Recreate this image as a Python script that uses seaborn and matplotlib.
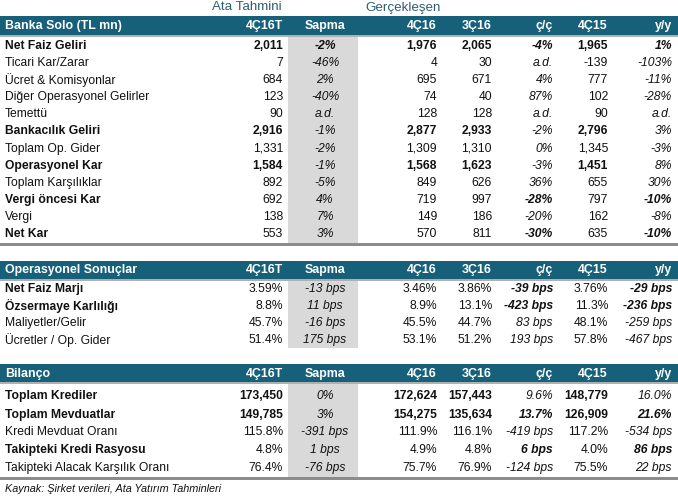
import matplotlib
matplotlib.use("Agg")
import matplotlib.pyplot as plt
from matplotlib.patches import Rectangle
import seaborn as sns

sns.set_theme(style="white")
plt.rcParams['font.family'] = ['Liberation Sans', 'DejaVu Sans']

# ---------------- data ----------------
col_headers = ["4Ç16T", "Sapma", "4Ç16", "3Ç16", "ç/ç", "4Ç15", "y/y"]

s1_title = "Banka Solo (TL mn)"
s1_labels = ["Net Faiz Geliri", "Ticari Kar/Zarar", "Ücret & Komisyonlar",
             "Diğer Operasyonel Gelirler", "Temettü", "Bankacılık Geliri",
             "Toplam Op. Gider", "Operasyonel Kar", "Toplam Karşılıklar",
             "Vergi öncesi Kar", "Vergi", "Net Kar"]
s1_est = ["2,011", "7", "684", "123", "90", "2,916", "1,331", "1,584", "892", "692", "138", "553"]
s1_sapma = ["-2%", "-46%", "2%", "-40%", "a.d.", "-1%", "-2%", "-1%", "-5%", "4%", "7%", "3%"]
s1_q416 = ["1,976", "4", "695", "74", "128", "2,877", "1,309", "1,568", "849", "719", "149", "570"]
s1_q316 = ["2,065", "30", "671", "40", "128", "2,933", "1,310", "1,623", "626", "997", "186", "811"]
s1_qoq = ["-4%", "a.d.", "4%", "87%", "a.d.", "-2%", "0%", "-3%", "36%", "-28%", "-20%", "-30%"]
s1_q415 = ["1,965", "-139", "777", "102", "90", "2,796", "1,345", "1,451", "655", "797", "162", "635"]
s1_yoy = ["1%", "-103%", "-11%", "-28%", "a.d.", "3%", "-3%", "8%", "30%", "-10%", "-8%", "-10%"]
s1_bold_label = [1, 0, 0, 0, 0, 1, 0, 1, 0, 1, 0, 1]
s1_bold_num = [1, 0, 0, 0, 0, 1, 0, 1, 0, 0, 0, 0]
s1_bold_pct = [1, 0, 0, 0, 0, 0, 0, 0, 0, 1, 0, 1]

s2_title = "Operasyonel Sonuçlar"
s2_labels = ["Net Faiz Marjı", "Özsermaye Karlılığı", "Maliyetler/Gelir", "Ücretler / Op. Gider"]
s2_est = ["3.59%", "8.8%", "45.7%", "51.4%"]
s2_sapma = ["-13 bps", "11 bps", "-16 bps", "175 bps"]
s2_q416 = ["3.46%", "8.9%", "45.5%", "53.1%"]
s2_q316 = ["3.86%", "13.1%", "44.7%", "51.2%"]
s2_qoq = ["-39 bps", "-423 bps", "83 bps", "193 bps"]
s2_q415 = ["3.76%", "11.3%", "48.1%", "57.8%"]
s2_yoy = ["-29 bps", "-236 bps", "-259 bps", "-467 bps"]
s2_bold_label = [1, 1, 0, 0]
s2_bold_num = [0, 0, 0, 0]
s2_bold_pct = [1, 1, 0, 0]

s3_title = "Bilanço"
s3_labels = ["Toplam Krediler", "Toplam Mevduatlar", "Kredi Mevduat Oranı",
             "Takipteki Kredi Rasyosu", "Takipteki Alacak Karşılık Oranı"]
s3_est = ["173,450", "149,785", "115.8%", "4.8%", "76.4%"]
s3_sapma = ["0%", "3%", "-391 bps", "1 bps", "-76 bps"]
s3_q416 = ["172,624", "154,275", "111.9%", "4.9%", "75.7%"]
s3_q316 = ["157,443", "135,634", "116.1%", "4.8%", "76.9%"]
s3_qoq = ["9.6%", "13.7%", "-419 bps", "6 bps", "-124 bps"]
s3_q415 = ["148,779", "126,909", "117.2%", "4.0%", "75.5%"]
s3_yoy = ["16.0%", "21.6%", "-534 bps", "86 bps", "22 bps"]
s3_bold_label = [1, 1, 0, 1, 0]
s3_bold_num = [1, 1, 0, 0, 0]
s3_bold_pct = [0, 1, 0, 1, 0]

group_titles = ["Ata Tahmini", "Gerçekleşen"]
source_text = "Kaynak: Şirket verileri, Ata Yatırım Tahminleri"

# ---------------- layout ----------------
W, H = 678, 500
HEADER_C = "#17607a"
GREY_COL = "#d9d9d9"
LINE_C = "#8c8c8c"
TITLE_C = "#2e5f6f"
TXT_C = "#111111"
FS = 8.7
HFS = 8.9
TFS = 9.6

fig = plt.figure(figsize=(W / 100, H / 100), dpi=100)
ax = fig.add_axes([0, 0, 1, 1])
ax.set_xlim(0, W)
ax.set_ylim(H, 0)
ax.axis("off")

# column x anchors: (x, ha)
cols = [(283, "right"), (325, "center"), (437, "right"), (492, "right"),
        (553, "right"), (608, "right"), (672, "right")]
SAP_X0, SAP_X1 = 288, 358

ax.text(247, 7.5, group_titles[0], ha="center", va="center", fontsize=TFS, color=TITLE_C)
ax.text(365, 7.5, group_titles[1], ha="left", va="center", fontsize=TFS, color=TITLE_C)


def section(title, hdr_top, hdr_bot, rows_y, grey_bot, bottom_line, labels, est, sap,
            q416, q316, qoq, q415, yoy, bl, bn, bp):
    ax.add_patch(Rectangle((0, hdr_top), W, hdr_bot - hdr_top, color=HEADER_C, lw=0))
    ax.add_patch(Rectangle((0, hdr_bot), W, 2, color="#b0b0b0", lw=0))
    hy = (hdr_top + hdr_bot) / 2 + 0.5
    ax.text(5, hy, title, ha="left", va="center", fontsize=HFS, color="white", fontweight="bold")
    for (x, ha), h in zip(cols, col_headers):
        ax.text(x, hy, h, ha=ha, va="center", fontsize=HFS, color="white", fontweight="bold")
    ax.add_patch(Rectangle((SAP_X0, hdr_bot + 2), SAP_X1 - SAP_X0, grey_bot - hdr_bot - 2,
                           color=GREY_COL, lw=0))
    if bottom_line:
        ax.add_patch(Rectangle((0, grey_bot), W, 3, color=LINE_C, lw=0))
    for i, y in enumerate(rows_y):
        ax.text(5, y, labels[i], ha="left", va="center", fontsize=FS, color=TXT_C,
                fontweight="bold" if bl[i] else "normal")
        vals = [est[i], sap[i], q416[i], q316[i], qoq[i], q415[i], yoy[i]]
        for j, ((x, ha), v) in enumerate(zip(cols, vals)):
            pct = j in (1, 4, 6)
            if pct:
                bold = bp[i] if j != 1 else (bp[i] and title == s1_title and i == 0)
                ax.text(x, y, v, ha=ha, va="center", fontsize=FS, color=TXT_C,
                        fontstyle="italic", fontweight="bold" if bold else "normal")
            else:
                ax.text(x, y, v, ha=ha, va="center", fontsize=FS, color=TXT_C,
                        fontweight="bold" if bn[i] else "normal")


rows1 = [46 + 17.1 * i for i in range(12)]
section(s1_title, 16, 35, rows1, 243, True, s1_labels, s1_est, s1_sapma, s1_q416,
        s1_q316, s1_qoq, s1_q415, s1_yoy, s1_bold_label, s1_bold_num, s1_bold_pct)

rows2 = [289 + 17 * i for i in range(4)]
section(s2_title, 261, 279, rows2, 348, False, s2_labels, s2_est, s2_sapma, s2_q416,
        s2_q316, s2_qoq, s2_q415, s2_yoy, s2_bold_label, s2_bold_num, s2_bold_pct)

rows3 = [396, 415, 432, 450, 468]
section(s3_title, 364, 382, rows3, 477, True, s3_labels, s3_est, s3_sapma, s3_q416,
        s3_q316, s3_qoq, s3_q415, s3_yoy, s3_bold_label, s3_bold_num, s3_bold_pct)

ax.text(5, 489, source_text, ha="left", va="center", fontsize=7.8, color=TXT_C,
        fontstyle="italic")

fig.savefig("out.png", dpi=100)
